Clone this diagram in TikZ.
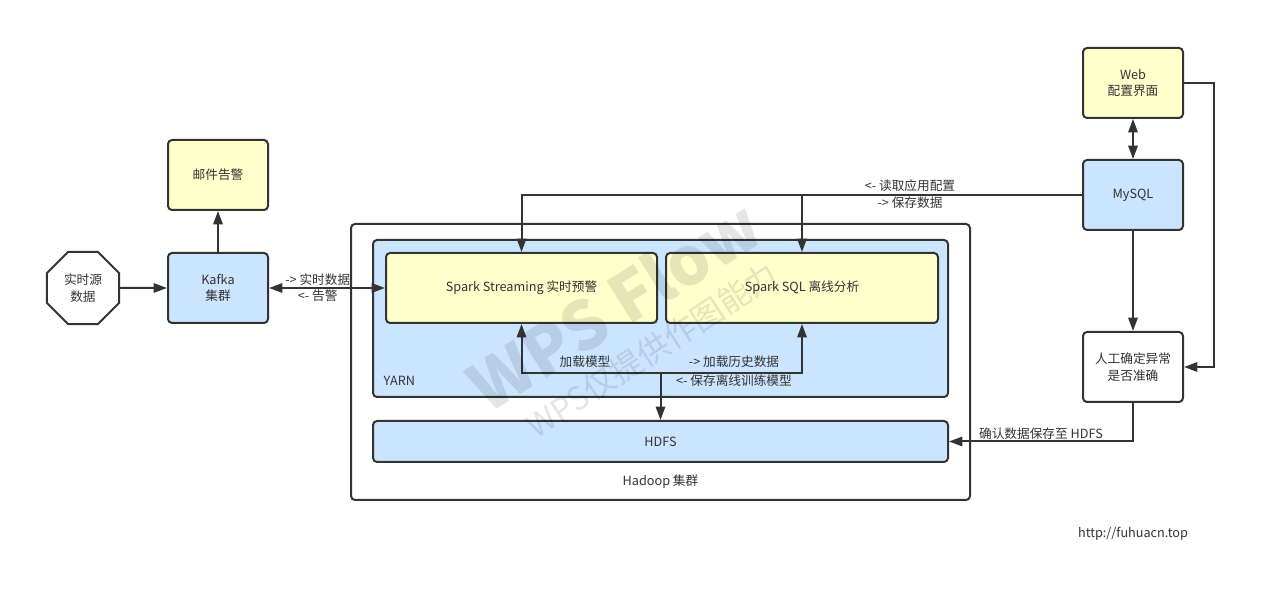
\documentclass[tikz,border=0pt]{standalone}
\usepackage{fontspec}
\setmainfont{Noto Sans CJK SC}
\usetikzlibrary{arrows.meta}
\usetikzlibrary{shapes.geometric}
\definecolor{boxblue}{HTML}{CCE5FF}
\definecolor{boxyellow}{HTML}{FFFFCC}
\definecolor{linegray}{HTML}{333333}
\tikzset{
 box/.style={draw=linegray, line width=1.5pt, rounded corners=3pt, align=center, inner sep=2pt, minimum width=75pt, minimum height=52.5pt},
 bluebox/.style={box, fill=boxblue},
 yellowbox/.style={box, fill=boxyellow},
 lbl/.style={inner sep=1pt, text=linegray},
 conn/.style={draw=linegray, line width=1.5pt, >={Triangle[length=10pt,width=7pt]}}
}
\begin{document}
\begin{tikzpicture} [x=.75pt, y=-.75pt, font=\fontsize{9.5}{12.5}\selectfont, text=linegray]
\useasboundingbox (0,0) rectangle (1275,616);
% Hadoop cluster
\node[box, fill=white, minimum width=464.25pt, minimum height=207pt] (hadoop) at (660.5,362) {};
\node[lbl] (hadooplbl) at (660.5,482) {Hadoop 集群};
\node[bluebox, minimum width=431.25pt, minimum height=117.75pt] (yarn) at (660.5,318.5) {};
\node[lbl, anchor=west] (yarnlbl) at (382,381) {YARN};
\node[yellowbox, minimum width=203.25pt] (stream) at (521.5,288) {Spark Streaming 实时预警};
\node[yellowbox, minimum width=204pt] (sql) at (802,288) {Spark SQL 离线分析};
\node[bluebox, minimum width=431.25pt, minimum height=30.75pt] (hdfs) at (660.5,441.5) {HDFS};
% left side
\node[regular polygon, regular polygon sides=8, draw=linegray, line width=1.5pt, fill=white, minimum size=58.5pt, inner sep=0pt, align=center] (src) at (83,288) {实时源\\数据};
\node[bluebox] (kafka) at (218,288) {Kafka\\集群};
\node[yellowbox] (mail) at (218,175) {邮件告警};
% right side
\node[yellowbox] (web) at (1133,83) {Web\\配置界面};
\node[bluebox] (mysql) at (1133,195) {MySQL};
\node[box, fill=white] (check) at (1133,367) {人工确定异常\\是否准确};
\coordinate (fork) at (660.5,372);
% connectors
\draw[conn, ->] (src) -- (kafka);
\draw[conn, ->] (kafka) -- (mail);
\draw[conn, <->] (kafka) -- (stream) node[lbl, above, pos=.42] {-{}> 实时数据} node[lbl, below, pos=.42] {<{}- 告警};
\draw[conn, ->] (mysql) -| (stream);
\draw[conn, ->] (sql.north |- mysql) -- (sql);
\node[lbl] (cfglbl) at (910,186) {<{}- 读取应用配置};
\node[lbl] (savelbl) at (910,203) {-{}> 保存数据};
\draw[conn, <->] (web) -- (mysql);
\draw[conn, ->] (mysql) -- (check);
\draw[conn, ->] (web.east) -- ++(30,0) |- (check.east);
\draw[conn, ->] (check.south) |- (hdfs.east) node[lbl, above, pos=.75] {确认数据保存至 HDFS};
\draw[conn, <->] (stream.south) -- ++(0,49) -| (sql.south);
\draw[conn, ->] (fork) -- (hdfs);
\node[lbl] (loadlbl) at (585,362) {加载模型};
\node[lbl] (histlbl) at (734,362) {-{}> 加载历史数据};
\node[lbl] (trainlbl) at (734,381) {<{}- 保存离线训练模型};
\node[lbl] (url) at (1133,534) {http://fuhuacn.top};
% watermark
\node[rotate=32, font=\bfseries\fontsize{50}{50}\selectfont, text=black, opacity=.1] (wm) at (614,305) {WPS Flow};
\node[rotate=33, font=\fontsize{24}{24}\selectfont, text=black, opacity=.1] (wmsub) at (652,350) {WPS仅提供作图能力};
\end{tikzpicture}
\end{document}
